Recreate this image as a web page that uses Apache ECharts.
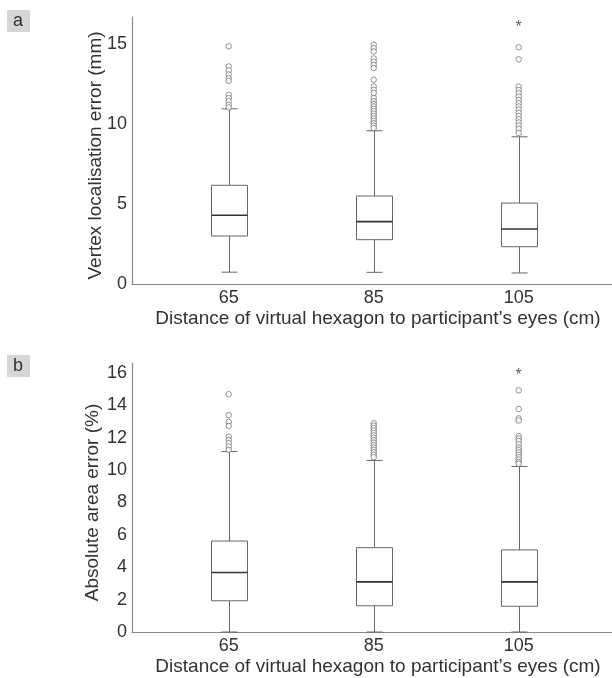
<!DOCTYPE html>
<html>
<head>
<meta charset="utf-8">
<script src="https://cdn.jsdelivr.net/npm/echarts@6/dist/echarts.min.js"></script>
<style>
  html, body { margin: 0; background: #fff; }
  #chart { width: 612px; height: 678px; }
</style>
</head>
<body>
<div id="chart"></div>
<script>
const distances = [65, 85, 105];

// panel a: vertex localisation error (mm), boxes as [min, Q1, median, Q3, max]
const vertexBoxes = [
  [0.74, 3.0, 4.3, 6.17, 10.95],
  [0.73, 2.77, 3.9, 5.5, 9.58],
  [0.69, 2.33, 3.44, 5.06, 9.2]
];
const vertexOutliers65 = [14.86, 13.6, 13.36, 13.1, 12.86, 12.7, 11.83, 11.63, 11.42, 11.2, 11.04];
const vertexOutliers85 = [14.96, 14.75, 14.54, 14.1, 13.9, 13.7, 13.5, 12.77, 12.35, 12.14, 11.94, 11.63,
  11.42, 11.25, 11.1, 10.95, 10.8, 10.65, 10.5, 10.35, 10.2, 10.05, 9.9, 9.75];
const vertexOutliers105 = [14.8, 14.04, 12.33, 12.13, 11.92, 11.71, 11.5, 11.3, 11.1, 10.9, 10.7,
  10.5, 10.3, 10.1, 9.9, 9.7, 9.45];
const vertexExtreme105 = 16.19;

// panel b: absolute area error (%)
const areaBoxes = [
  [0, 1.93, 3.68, 5.62, 11.15],
  [0, 1.62, 3.1, 5.21, 10.6],
  [0, 1.59, 3.1, 5.07, 10.23]
];
const areaOutliers65 = [14.69, 13.4, 12.98, 12.73, 12.07, 11.87, 11.67, 11.46, 11.25];
const areaOutliers85 = [12.9, 12.75, 12.6, 12.45, 12.3, 12.15, 12.0, 11.85, 11.7, 11.55, 11.4, 11.25,
  11.1, 10.95, 10.8];
const areaOutliers105 = [14.93, 13.78, 13.2, 13.07, 12.1, 11.95, 11.8, 11.6, 11.4, 11.25, 11.1, 10.95,
  10.8, 10.65, 10.5, 10.4];
const areaExtreme105 = 16.0;

const vertexTicks = [0, 5, 10, 15];
const areaTicks = [0, 2, 4, 6, 8, 10, 12, 14, 16];

const FONT = '"Liberation Sans", Arial, sans-serif';
const TEXT = '#333';
const AXIS = '#8a8a8a';

const chart = echarts.init(document.getElementById('chart'));

function seg(x1, y1, x2, y2, color, width) {
  return {
    type: 'line',
    shape: { x1, y1, x2, y2 },
    style: { stroke: color || '#666', lineWidth: width || 1 }
  };
}

function renderBox(params, api) {
  const x = api.value(0);
  const pt = (i) => api.coord([x, api.value(i)]);
  const lo = pt(1), q1 = pt(2), med = pt(3), q3 = pt(4), hi = pt(5);
  const cx = Math.round(lo[0]) + 0.5;
  const half = 18, cap = 8;
  return {
    type: 'group',
    children: [
      seg(cx, hi[1], cx, q3[1]),
      seg(cx, q1[1], cx, lo[1]),
      seg(cx - cap, hi[1], cx + cap, hi[1]),
      seg(cx - cap, lo[1], cx + cap, lo[1]),
      {
        type: 'rect',
        shape: { x: cx - half, y: q3[1], width: half * 2, height: q1[1] - q3[1] },
        style: { fill: '#fff', stroke: '#666', lineWidth: 1 }
      },
      seg(cx - half, med[1], cx + half, med[1], '#333', 1.6)
    ]
  };
}

function boxData(boxes) {
  return boxes.map((b, i) => [distances[i]].concat(b));
}

function outlierData(lists) {
  const out = [];
  lists.forEach((vals, i) => vals.forEach((v) => out.push([distances[i], v])));
  return out;
}

function yAxisOf(gridIndex, name, ticks, max, gap) {
  return {
    type: 'value',
    gridIndex,
    min: 0,
    max,
    name,
    nameLocation: 'middle',
    nameGap: gap,
    nameMoveOverlap: false,
    nameTextStyle: { fontFamily: FONT, fontSize: 19, color: TEXT, padding: [0, 10, 0, 0] },
    axisLine: { show: true, lineStyle: { color: AXIS, width: 1.2 } },
    axisTick: { show: false },
    splitLine: { show: false },
    axisLabel: { customValues: ticks, margin: 5, fontFamily: FONT, fontSize: 18, color: TEXT }
  };
}

function xAxisOf(gridIndex) {
  return {
    type: 'value',
    gridIndex,
    min: 51.66,
    max: 117.87,
    name: 'Distance of virtual hexagon to participant\u2019s eyes (cm)',
    nameLocation: 'middle',
    nameGap: 25,
    nameMoveOverlap: false,
    nameTextStyle: { fontFamily: FONT, fontSize: 19, color: TEXT, padding: [0, 0, 0, 12] },
    axisLine: { show: true, lineStyle: { color: AXIS, width: 1.2 } },
    axisTick: { show: false },
    splitLine: { show: false },
    axisLabel: { customValues: distances, margin: 5, fontFamily: FONT, fontSize: 18, color: TEXT }
  };
}

function panelSeries(idx, boxes, outliers, extreme) {
  return [
    {
      type: 'custom',
      xAxisIndex: idx,
      yAxisIndex: idx,
      renderItem: renderBox,
      data: boxData(boxes),
      z: 2
    },
    {
      type: 'scatter',
      xAxisIndex: idx,
      yAxisIndex: idx,
      symbol: 'circle',
      symbolSize: 5.5,
      itemStyle: { color: '#fff', borderColor: '#6a6a6a', borderWidth: 0.9 },
      data: outlierData(outliers),
      z: 3
    },
    {
      type: 'scatter',
      xAxisIndex: idx,
      yAxisIndex: idx,
      symbolSize: 1,
      itemStyle: { color: 'rgba(0,0,0,0)' },
      label: {
        show: true,
        position: 'inside',
        formatter: '*',
        fontFamily: FONT,
        fontSize: 16,
        color: '#333',
        offset: [0, 3]
      },
      data: [[105, extreme]],
      z: 3
    }
  ];
}

function panelTag(letter, top) {
  return [
    { type: 'rect', left: 7, top, shape: { width: 23, height: 22 }, style: { fill: '#d6d6d6' } },
    {
      type: 'text', left: 13, top: top + 2,
      style: { text: letter, font: '18px ' + FONT, fill: TEXT }
    }
  ];
}

chart.setOption({
  animation: false,
  backgroundColor: '#fff',
  grid: [
    { left: 132, top: 17, width: 480, height: 267 },
    { left: 132, top: 363, width: 480, height: 269 }
  ],
  xAxis: [xAxisOf(0), xAxisOf(1)],
  yAxis: [
    yAxisOf(0, 'Vertex localisation error (mm)', vertexTicks, 16.69, 27),
    yAxisOf(1, 'Absolute area error (%)', areaTicks, 16.62, 30)
  ],
  graphic: panelTag('a', 10).concat(panelTag('b', 355)),
  series: panelSeries(0, vertexBoxes, [vertexOutliers65, vertexOutliers85, vertexOutliers105], vertexExtreme105)
    .concat(panelSeries(1, areaBoxes, [areaOutliers65, areaOutliers85, areaOutliers105], areaExtreme105))
});
</script>
</body>
</html>
